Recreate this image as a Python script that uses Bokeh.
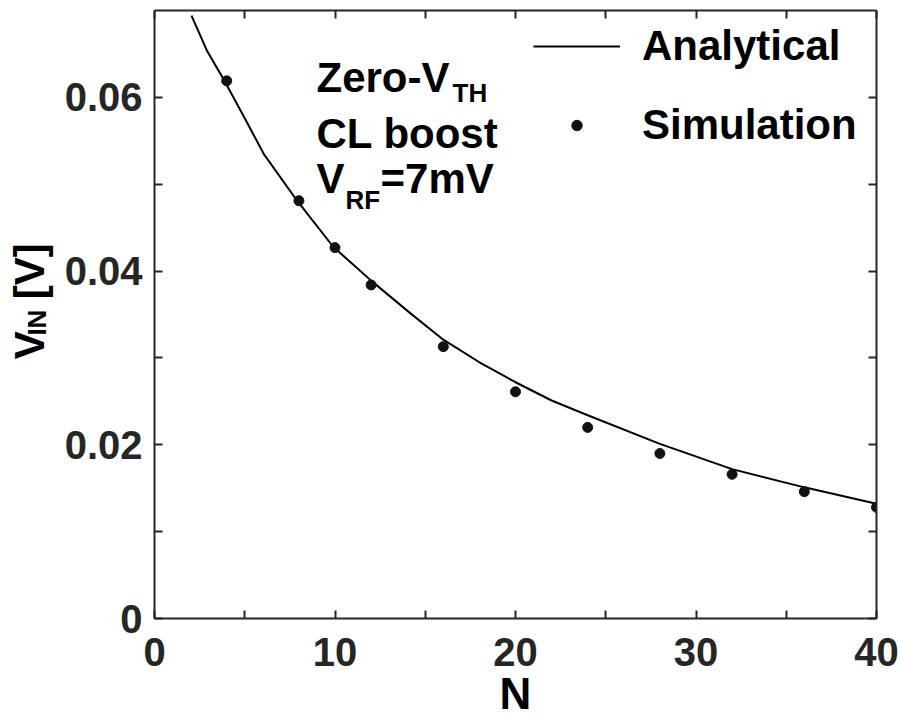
from bokeh.plotting import figure
from bokeh.models import (Range1d, FixedTicker, LinearAxis, Label, Legend, LegendItem,
                          ColumnDataSource, CustomJSTickFormatter)
from bokeh.layouts import row
from bokeh.core.properties import value
from bokeh.embed import file_html
from bokeh.resources import INLINE
from math import pi

# ---- data ----
N_analytical = [2.05, 2.9, 3.85, 5, 6.05, 7.9, 9.9, 12, 14.2, 16, 18, 20, 22, 24, 28, 32, 36, 40]
V_analytical = [0.0694, 0.0654, 0.0620, 0.0576, 0.0535, 0.0481, 0.0428, 0.0389, 0.0351, 0.0321,
                0.0295, 0.0272, 0.0251, 0.0234, 0.0201, 0.0172, 0.0151, 0.0132]
N_sim = [4, 8, 10, 12, 16, 20, 24, 28, 32, 36, 40]
V_sim = [0.0619, 0.0481, 0.0427, 0.0384, 0.0313, 0.0261, 0.0220, 0.0190, 0.0166, 0.0146, 0.0128]

x_major = [0, 10, 20, 30, 40]
x_minor = [5, 15, 25, 35]
y_major = [0, 0.02, 0.04, 0.06]
y_minor = [0.01, 0.03, 0.05]
y_tick_labels = {0: "0", 0.02: "0.02", 0.04: "0.04", 0.06: "0.06"}
x_title = "N"

FONT = "Liberation Sans"
AX = "#262626"

W, H = 902, 720
YW = 60            # width of the strip holding the y-axis title
L, R, T, B = 154, 876, 10, 618   # frame edges in page pixels
MW = W - YW

p = figure(width=MW, height=H, output_backend="svg", toolbar_location=None,
           x_range=Range1d(0, 40), y_range=Range1d(0, 0.07),
           min_border_left=L - YW, min_border_right=W - R, min_border_top=T,
           min_border_bottom=H - B, x_axis_location=None, y_axis_location=None)
p.grid.visible = False
p.outline_line_color = None


def style_axis(ax, ticker, show_labels, standoff=0):
    ax.ticker = ticker
    ax.axis_line_color = AX
    ax.axis_line_width = 2
    ax.major_tick_in = 8
    ax.major_tick_out = 0
    ax.minor_tick_in = 8
    ax.minor_tick_out = 0
    ax.major_tick_line_color = AX
    ax.minor_tick_line_color = AX
    ax.major_tick_line_width = 2
    ax.minor_tick_line_width = 2
    if show_labels:
        ax.major_label_text_font = FONT
        ax.major_label_text_font_style = "bold"
        ax.major_label_text_font_size = "40px"
        ax.major_label_text_color = AX
        ax.major_label_standoff = standoff
    else:
        ax.formatter = CustomJSTickFormatter(code="return ''")
        ax.major_label_text_font_size = "1px"
        ax.major_label_standoff = 0


xb = LinearAxis()
style_axis(xb, FixedTicker(ticks=x_major, minor_ticks=x_minor), True, 19)
xb.axis_label = x_title
xb.axis_label_text_font = FONT
xb.axis_label_text_font_style = "bold"
xb.axis_label_text_font_size = "44px"
xb.axis_label_text_color = "black"
xb.axis_label_text_align = "right"
xb.axis_label_standoff = 0
p.add_layout(xb, "below")
xa = LinearAxis()
style_axis(xa, FixedTicker(ticks=x_major, minor_ticks=x_minor), False)
p.add_layout(xa, "above")
yl = LinearAxis()
style_axis(yl, FixedTicker(ticks=y_major, minor_ticks=y_minor), True, 12)
yl.major_label_overrides = y_tick_labels
p.add_layout(yl, "left")
yr = LinearAxis()
style_axis(yr, FixedTicker(ticks=y_major, minor_ticks=y_minor), False)
p.add_layout(yr, "right")

src_line = ColumnDataSource(dict(x=N_analytical, y=V_analytical))
src_sim = ColumnDataSource(dict(x=N_sim, y=V_sim))
r_line = p.line("x", "y", source=src_line, line_color="black", line_width=2)
r_sim = p.scatter("x", "y", source=src_sim, marker="circle", size=10,
                  fill_color="#111111", line_color="#111111")

legend = Legend(items=[LegendItem(label="Analytical", renderers=[r_line]),
                       LegendItem(label="Simulation", renderers=[r_sim])],
                location=(533 - L, B - 149), orientation="vertical",
                label_text_font=FONT, label_text_font_style="bold",
                label_text_font_size="42px", label_text_color="black",
                glyph_width=87, glyph_height=26, label_standoff=22, spacing=31,
                padding=0, margin=0, border_line_color=None,
                background_fill_alpha=0)
p.add_layout(legend, "center")


def lab(text, px, py_mid, size):
    # px: left edge, py_mid: vertical middle of the capitals (page pixels)
    p.add_layout(Label(x=px - L, y=B - py_mid, x_units="screen", y_units="screen",
                       text=text, text_font=FONT, text_font_style="bold",
                       text_font_size=f"{size}px", text_color="black",
                       text_baseline="middle", text_align="left"))


# in-plot annotation
lab("Zero-V", 316, 77, 42)
lab("TH", 452, 92, 26)
lab("CL boost", 316, 133, 42)
lab("V", 316, 178, 42)
lab("RF", 345, 199, 26)
lab("=7mV", 380, 178, 42)

# y-axis title strip (page x 0..YW, page y 0..H)
ys = figure(width=YW, height=H, output_backend="svg", toolbar_location=None,
            x_range=Range1d(0, YW), y_range=Range1d(0, H),
            min_border=0, x_axis_location=None, y_axis_location=None)
ys.grid.visible = False
ys.outline_line_color = None
ys.text(x=[29, 36, 29], y=[H - 413, H - 385, H - 342], text=["V", "IN", "[V]"],
        text_font=value(FONT), text_font_style="bold",
        text_font_size=["42px", "26px", "42px"], text_color="black",
        text_baseline="middle", text_align="left", angle=pi / 2)

layout = row(ys, p)
open("out.html", "w").write(file_html(layout, INLINE))
